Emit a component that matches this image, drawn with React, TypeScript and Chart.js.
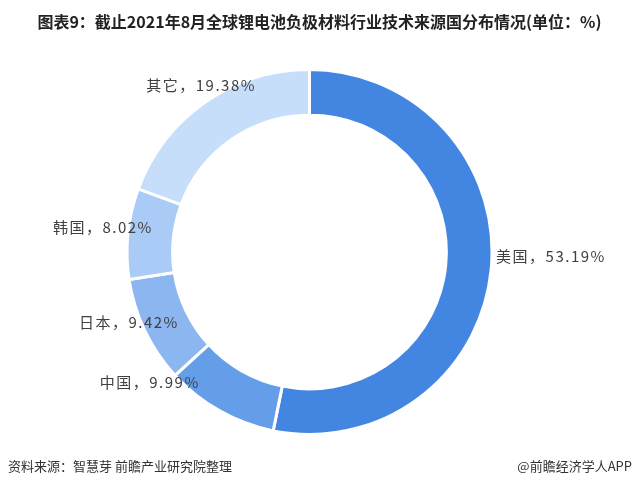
import React, { useEffect, useRef } from "react";
import { Chart, registerables } from "chart.js";

Chart.register(...registerables);

const categories = ["美国", "中国", "日本", "韩国", "其它"];
const shares = [53.19, 9.99, 9.42, 8.02, 19.38];
const sliceColors = ["#4386E2", "#649EE9", "#8BB6F0", "#A9CBF6", "#C6DEFA"];

const TITLE = "图表9：截止2021年8月全球锂电池负极材料行业技术来源国分布情况(单位：%)";
const SOURCE = "资料来源：智慧芽 前瞻产业研究院整理";
const BRAND = "@前瞻经济学人APP";

// label placement relative to each slice's outer mid-point (layout only)
const LABEL_LAYOUT = [
  { align: "left", dx: 5, dy: -14 },
  { align: "right", dx: -20, dy: -29 },
  { align: "right", dx: 34, dy: -9 },
  { align: "right", dx: 25, dy: -6 },
  { align: "center", dx: -4, dy: -17 },
];

const FONT = '"Noto Sans CJK SC", "Microsoft YaHei", sans-serif';

const textPlugin = {
  id: "textPlugin",
  afterDraw(chart: any) {
    const ctx = chart.ctx as CanvasRenderingContext2D;
    ctx.save();
    // title
    ctx.fillStyle = "#222222";
    ctx.font = `bold 16px ${FONT}`;
    ctx.textAlign = "center";
    ctx.textBaseline = "middle";
    ctx.fillText(TITLE, 319.5, 22);
    // footer
    ctx.fillStyle = "#333333";
    ctx.font = `13px ${FONT}`;
    ctx.textAlign = "left";
    ctx.fillText(SOURCE, 8, 466);
    ctx.textAlign = "right";
    ctx.fillText(BRAND, 632, 466);

    // slice labels
    const meta = chart.getDatasetMeta(0);
    ctx.font = `15px ${FONT}`;
    ctx.fillStyle = "#404040";
    (ctx as any).letterSpacing = "1.5px";
    meta.data.forEach((arc: any, i: number) => {
      const { x, y, startAngle, endAngle, outerRadius } = arc.getProps(
        ["x", "y", "startAngle", "endAngle", "outerRadius"],
        true
      );
      const mid = (startAngle + endAngle) / 2;
      const px = x + Math.cos(mid) * outerRadius;
      const py = y + Math.sin(mid) * outerRadius;
      const lay = LABEL_LAYOUT[i];
      ctx.textAlign = lay.align as CanvasTextAlign;
      ctx.textBaseline = "middle";
      ctx.fillText(`${categories[i]}，${shares[i].toFixed(2)}%`, px + lay.dx, py + lay.dy);
    });
    ctx.restore();
  },
};

export default function App() {
  const ref = useRef<HTMLCanvasElement>(null);
  useEffect(() => {
    if (!ref.current) return;
    const chart = new Chart(ref.current, {
      type: "doughnut",
      data: {
        labels: categories,
        datasets: [
          {
            data: shares,
            backgroundColor: sliceColors,
            borderColor: "#ffffff",
            borderWidth: 3,
            hoverOffset: 0,
          },
        ],
      },
      options: {
        responsive: false,
        animation: false,
        cutout: "75%",
        rotation: 0,
        layout: { padding: { left: 125.5, right: 145.5, top: 68, bottom: 52 } },
        plugins: {
          legend: { display: false },
          tooltip: { enabled: false },
          title: { display: false },
        },
      },
      plugins: [textPlugin],
    });
    return () => chart.destroy();
  }, []);
  return (
    <div style={{ position: "fixed", left: 0, top: 0, width: 639, height: 488, background: "#fff" }}>
      <canvas ref={ref} width={639} height={488} style={{ width: 639, height: 488 }} />
    </div>
  );
}
